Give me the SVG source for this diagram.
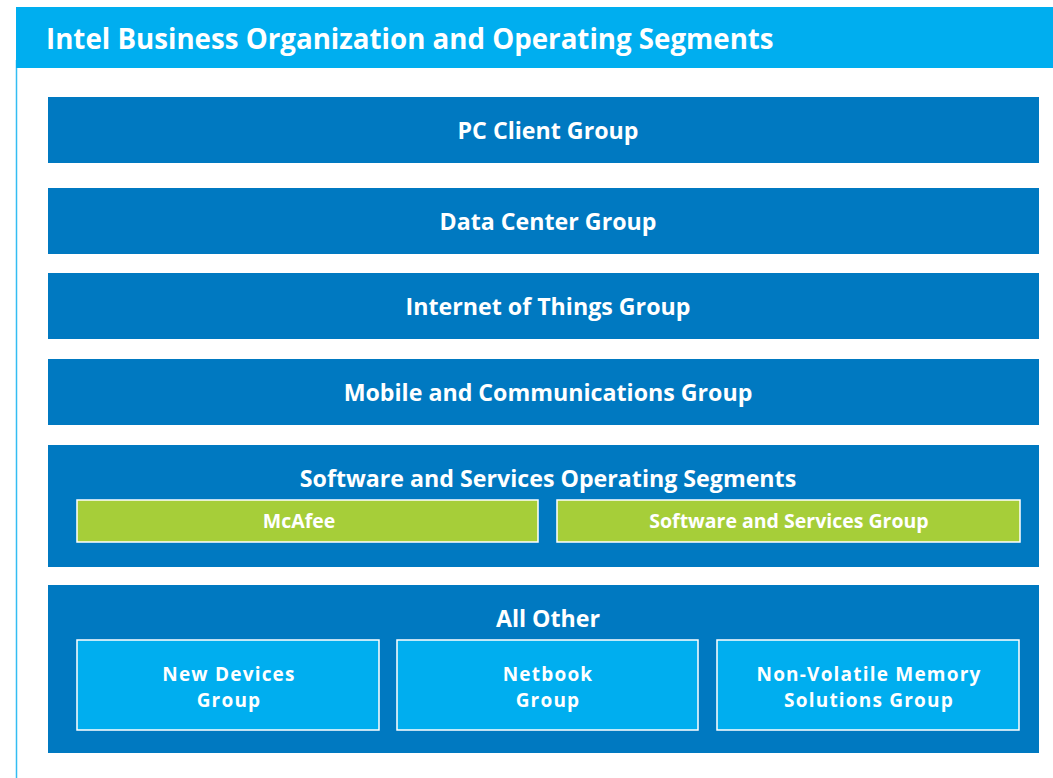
<svg xmlns="http://www.w3.org/2000/svg" width="1053" height="778" viewBox="0 0 1053 778">
  <style>
    .band { fill: #0079c1; }
    .green { fill: #a6ce39; stroke: #ffffff; stroke-width: 1.5; }
    .sub { fill: #00aeef; stroke: #ffffff; stroke-width: 1.5; }
    text { font-family: "Open Sans", "Liberation Sans", sans-serif; font-weight: 700; fill: #ffffff; text-anchor: middle; }
    .title { font-size: 27.7px; text-anchor: start; }
    .lbl { font-size: 23.2px; }
    .small { font-size: 19.5px; }
    .spaced { font-size: 19px; letter-spacing: 1.2px; }
  </style>
  <rect width="1053" height="778" fill="#ffffff"/>
  <!-- frame -->
  <line x1="16.5" y1="60" x2="16.5" y2="778" stroke="#33bdf2" stroke-width="1.5"/>
  <g id="header">
    <rect x="16" y="7" width="1037" height="61" fill="#00aeef"/>
    <text class="title" x="46" y="49">Intel Business Organization and Operating Segments</text>
  </g>
  <g id="pc-client">
    <rect class="band" x="48" y="97" width="991" height="66"/>
    <text class="lbl" x="548" y="139">PC Client Group</text>
  </g>
  <g id="data-center">
    <rect class="band" x="48" y="188" width="991" height="66"/>
    <text class="lbl" x="548" y="230">Data Center Group</text>
  </g>
  <g id="iot">
    <rect class="band" x="48" y="273" width="991" height="66"/>
    <text class="lbl" x="548" y="315">Internet of Things Group</text>
  </g>
  <g id="mobile">
    <rect class="band" x="48" y="359" width="991" height="66"/>
    <text class="lbl" x="548" y="401">Mobile and Communications Group</text>
  </g>
  <g id="software-services">
    <rect class="band" x="48" y="445" width="991" height="122"/>
    <text class="lbl" x="548" y="487">Software and Services Operating Segments</text>
    <g id="mcafee">
      <rect class="green" x="77" y="500" width="461" height="42"/>
      <text class="small" x="299" y="528">McAfee</text>
    </g>
    <g id="ssg">
      <rect class="green" x="557" y="500" width="463" height="42"/>
      <text class="small" x="789" y="528">Software and Services Group</text>
    </g>
  </g>
  <g id="all-other">
    <rect class="band" x="48" y="585" width="991" height="168"/>
    <text class="lbl" x="548" y="627">All Other</text>
    <g id="new-devices">
      <rect class="sub" x="77" y="640" width="302" height="90"/>
      <text class="spaced" x="229" y="681">New Devices</text>
      <text class="spaced" x="229" y="707">Group</text>
    </g>
    <g id="netbook">
      <rect class="sub" x="397" y="640" width="301" height="90"/>
      <text class="spaced" x="548" y="681">Netbook</text>
      <text class="spaced" x="548" y="707">Group</text>
    </g>
    <g id="nvm">
      <rect class="sub" x="717" y="640" width="302" height="90"/>
      <text class="spaced" x="869" y="681">Non-Volatile Memory</text>
      <text class="spaced" x="869" y="707">Solutions Group</text>
    </g>
  </g>
</svg>
